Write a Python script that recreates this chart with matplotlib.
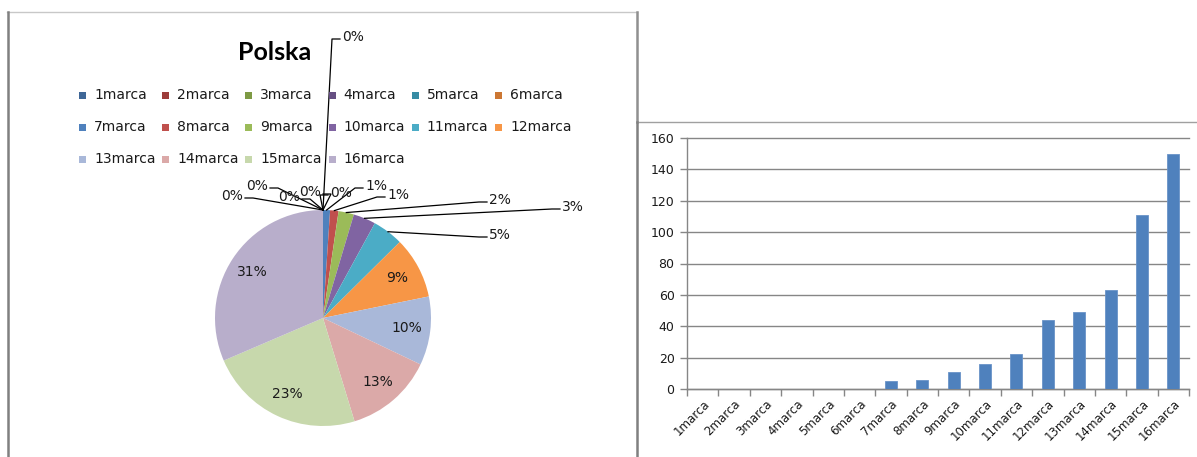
import numpy as np
import matplotlib
matplotlib.use('Agg')
import matplotlib.pyplot as plt
from matplotlib.patches import Rectangle
from matplotlib.lines import Line2D

# data
labels = ['1marca', '2marca', '3marca', '4marca', '5marca', '6marca',
          '7marca', '8marca', '9marca', '10marca', '11marca', '12marca',
          '13marca', '14marca', '15marca', '16marca']
values = [0, 0, 0, 0, 0, 0, 5, 6, 11, 16, 22, 44, 49, 63, 111, 150]
pie_title = 'Polska'
y_ticks = [0, 20, 40, 60, 80, 100, 120, 140, 160]

colors = ['#3F6797', '#9D3C3A', '#7E9A44', '#664F83', '#378CA4', '#CC7733',
          '#4F81BD', '#C0504D', '#9BBB59', '#8064A2', '#4BACC6', '#F79646',
          '#A9B8D9', '#DBA9A8', '#C7D8AC', '#B8AECB']
bar_color = '#4F81BD'
text_color = '#1a1a1a'
axis_gray = '#868686'

W, H = 1197, 457
plt.rcParams['font.family'] = ['DejaVu Sans']
fig = plt.figure(figsize=(W / 100, H / 100), dpi=100)


def fx(x):
    return x / W


def fy(y):
    return 1 - y / H


# panel frames (excel chart areas)
fig.add_artist(Line2D([fx(7), fx(637)], [fy(12), fy(12)], color='#C8C8C8', lw=1))
fig.add_artist(Line2D([fx(7.5), fx(7.5)], [fy(12), 0], color='#808080', lw=1.8))
fig.add_artist(Line2D([fx(637), fx(637)], [fy(12), fy(122)], color='#909090', lw=1.8))
fig.add_artist(Line2D([fx(637), fx(1197)], [fy(122), fy(122)], color='#A0A0A0', lw=1))
fig.add_artist(Line2D([fx(637), fx(637)], [fy(122), 0], color='#808080', lw=1.8))

# ---- pie ----
cx, cy, R = 323, 318, 108  # pixel centre and radius of the pie
ax = fig.add_axes([fx(7), 0, (637 - 7) / W, (H - 12) / H])
total = sum(values)
wedges, _ = ax.pie(values, colors=colors, startangle=90, counterclock=False,
                   wedgeprops=dict(linewidth=0))
ax.set_xlim((7 - cx) / R, (637 - cx) / R)
ax.set_ylim((cy - H) / R, (cy - 12) / R)
ax.set_aspect('auto')
ax.axis('off')


def d(px, py):
    return (px - cx) / R, (cy - py) / R


# outside label anchors (pixels) for the small slices
outside = {0: (340, 37, 'l'), 1: (328, 193, 'l'), 2: (323, 192, 'r'),
           3: (302, 197, 'r'), 4: (270, 186, 'r'), 5: (245, 196, 'r'),
           6: (363, 186, 'l'), 7: (385, 195, 'l'), 8: (487, 200, 'l'),
           9: (560, 207, 'l'), 10: (487, 235, 'l')}

cum = 0
for i, v in enumerate(values):
    frac = v / total
    mid = np.deg2rad(90 - 360 * (cum + v / 2) / total)
    cum += v
    pct = '{:.0f}%'.format(100 * frac)
    if i in outside:
        ax_, ay_, side = outside[i]
        ex, ey = np.cos(mid), np.sin(mid)
        sgn = -1 if side == 'l' else 1
        elbow = d(ax_ + sgn * 8, ay_ + 2)
        anchor = d(ax_, ay_ + 2)
        ax.plot([ex, elbow[0], anchor[0]], [ey, elbow[1], anchor[1]],
                color='black', lw=0.9, clip_on=False)
        tx, ty = d(ax_ + (2 if side == 'l' else -2), ay_)
        ax.text(tx, ty, pct, ha='left' if side == 'l' else 'right', va='center',
                fontsize=10, color=text_color)
    else:
        ax.text(0.78 * np.cos(mid), 0.78 * np.sin(mid), pct, ha='center',
                va='center', fontsize=10, color=text_color)

fig.text(fx(275), fy(52), pie_title, ha='center', va='center', fontsize=18,
         fontweight='bold', family='Lato', color='black')

# legend, six per row like excel
for i, lab in enumerate(labels):
    row, col = divmod(i, 6)
    lx = 79 + 83.2 * col
    ly = 95 + 32 * row
    fig.add_artist(Rectangle((fx(lx), fy(ly + 3.5)), 7 / W, 7 / H,
                             facecolor=colors[i], edgecolor='none'))
    fig.text(fx(lx + 15), fy(ly), lab, ha='left', va='center', fontsize=10,
             color=text_color)

# ---- bar chart ----
bx = fig.add_axes([fx(687), fy(389), (1189 - 687) / W, (389 - 138) / H])
x = np.arange(len(labels))
bx.bar(x, values, width=0.38, color=bar_color, edgecolor='#6A93C8', linewidth=0.6,
       zorder=3)
bx.set_xlim(-0.5, len(labels) - 0.5)
bx.set_ylim(0, 160)
bx.set_yticks(y_ticks)
bx.yaxis.grid(True, color=axis_gray, lw=1, zorder=0)
for gl in bx.get_ygridlines():
    gl.set_clip_on(False)
bx.set_xticks(x)
bx.set_xticklabels(labels, rotation=45, ha='right', va='top',
                   rotation_mode='anchor', fontsize=8.5, color=text_color)
bx.set_xticks(np.arange(-0.5, len(labels)), minor=True)
bx.tick_params(axis='x', which='major', length=0, pad=6)
bx.tick_params(axis='x', which='minor', length=5, color=axis_gray, width=1)
bx.tick_params(axis='y', length=5, color=axis_gray, width=1, labelsize=9,
               labelcolor=text_color, pad=4)
for s in ['top', 'right']:
    bx.spines[s].set_visible(False)
for s in ['left', 'bottom']:
    bx.spines[s].set_color(axis_gray)
    bx.spines[s].set_linewidth(1)

fig.savefig('out.png', dpi=100)
